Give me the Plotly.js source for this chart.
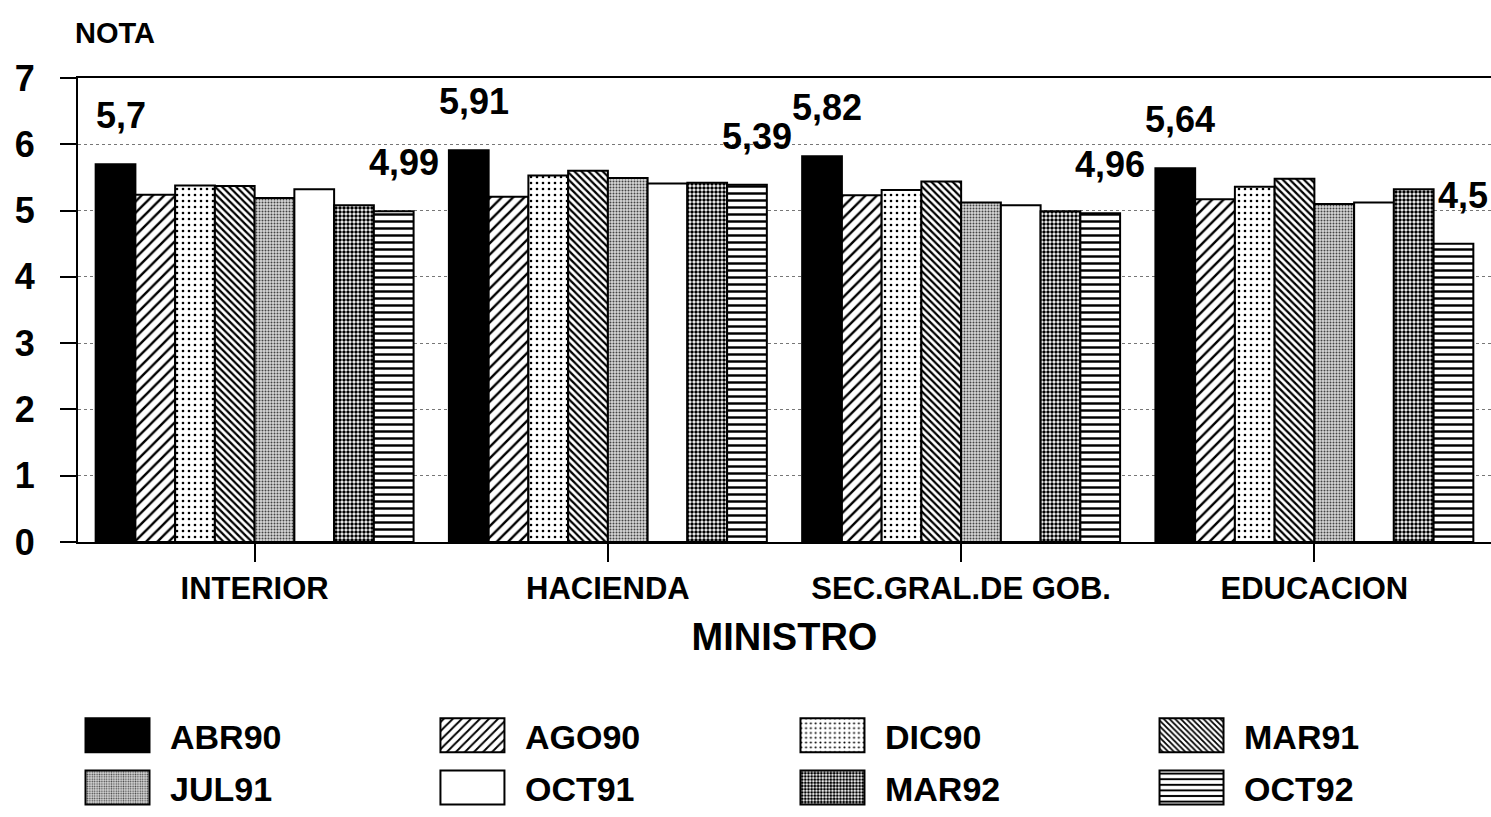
<!DOCTYPE html>
<html><head><meta charset="utf-8">
<script src="https://cdn.plot.ly/plotly-3.0.1.min.js"></script>
<style>html,body{margin:0;padding:0;background:#fff;overflow:hidden}#chart{width:1491px;height:817px}</style>
</head><body><div id="chart"></div>
<script>
// Data
const ministros = ['INTERIOR', 'HACIENDA', 'SEC.GRAL.DE GOB.', 'EDUCACION'];
const seriesNames = ['ABR90', 'AGO90', 'DIC90', 'MAR91', 'JUL91', 'OCT91', 'MAR92', 'OCT92'];
const abr90 = [5.70, 5.91, 5.82, 5.64];
const ago90 = [5.24, 5.21, 5.23, 5.17];
const dic90 = [5.38, 5.53, 5.31, 5.36];
const mar91 = [5.37, 5.60, 5.44, 5.48];
const jul91 = [5.19, 5.49, 5.12, 5.10];
const oct91 = [5.32, 5.41, 5.08, 5.12];
const mar92 = [5.08, 5.42, 4.99, 5.32];
const oct92 = [4.99, 5.39, 4.96, 4.5];
const yTicks = [0, 1, 2, 3, 4, 5, 6, 7];

const FONT = 'Liberation Sans, Arial, sans-serif';
const fmt = v => String(v).replace('.', ',');

const values = [abr90, ago90, dic90, mar91, jul91, oct91, mar92, oct92];
const styles = [
  {color: '#000000'},
  {color: '#ffffff', pattern: {shape: '/', fgcolor: '#000', bgcolor: '#fff', size: 8, solidity: 0.3}},
  {color: '#ffffff', pattern: {shape: '.', fgcolor: '#000', bgcolor: '#fff', size: 6, solidity: 0.15}},
  {color: '#ffffff', pattern: {shape: '\\', fgcolor: '#000', bgcolor: '#fff', size: 5, solidity: 0.45}},
  {color: '#cccccc', pattern: {shape: '.', fgcolor: '#444', bgcolor: '#d8d8d8', size: 3, solidity: 0.35}},
  {color: '#ffffff'},
  {color: '#ffffff', pattern: {shape: '.', fgcolor: '#000', bgcolor: '#fff', size: 4, solidity: 0.6}},
  {color: '#ffffff', pattern: {shape: '-', fgcolor: '#000', bgcolor: '#fff', size: 7, solidity: 0.35}}
];
const labelled = [true, false, false, false, false, false, false, true];
const BARGAP = 0.1;
const nSeries = values.length;
const barW = (1 - BARGAP) / nSeries;

// one legend per entry, laid out as in the reference (4 columns x 2 rows)
const legendCols = [-0.0092, 0.2420, 0.4968, 0.7509];
const legendRows = [-0.4176, -0.531];
const legendIds = seriesNames.map((_, i) => i === 0 ? 'legend' : 'legend' + (i + 1));

const traces = values.map((vals, i) => ({
  type: 'bar',
  name: seriesNames[i],
  x: ministros,
  y: vals,
  textposition: 'none',
  marker: Object.assign({line: {color: '#000', width: 2}}, styles[i]),
  legend: legendIds[i],
  hoverinfo: 'x+y+name'
}));

// value labels above first and last bar of each group
const annotations = [];
values.forEach((vals, i) => {
  if (!labelled[i]) return;
  vals.forEach((v, k) => {
    annotations.push({
      x: k + (i - (nSeries - 1) / 2) * barW, y: v, xref: 'x', yref: 'y',
      text: fmt(v), showarrow: false, yanchor: 'bottom', xanchor: 'center',
      yshift: 26, xshift: i === 0 ? 5 : 10,
      font: {family: FONT, size: 36, color: '#000', weight: 'bold'}
    });
  });
});

const layout = {
  width: 1491, height: 817,
  paper_bgcolor: '#fff', plot_bgcolor: '#fff',
  margin: {l: 78, r: 0, t: 78, b: 272},
  font: {family: FONT, color: '#000'},
  title: {text: 'NOTA', xref: 'container', yref: 'container', x: 75 / 1491, xanchor: 'left',
          y: 1 - 33 / 817, yanchor: 'middle', font: {family: FONT, size: 29, weight: 'bold', color: '#000'}},
  bargap: BARGAP, bargroupgap: 0,
  showlegend: true,
  annotations: annotations,
  xaxis: {
    range: [-0.5, 3.5], showline: true, linecolor: '#000', linewidth: 2, mirror: true,
    ticks: 'outside', ticklen: 18, tickwidth: 2, tickcolor: '#000',
    tickfont: {family: FONT, size: 31, weight: 'bold', color: '#000'},
    title: {text: 'MINISTRO', standoff: 18, font: {family: FONT, size: 38, weight: 'bold', color: '#000'}},
    fixedrange: true
  },
  yaxis: {
    range: [0, 7], tickvals: yTicks, ticktext: yTicks.map(String),
    showline: true, linecolor: '#000', linewidth: 2,
    ticks: 'outside', ticklen: 16, tickwidth: 2, tickcolor: '#000', ticklabelstandoff: 18,
    tickfont: {family: FONT, size: 36, weight: 'bold', color: '#000'},
    showgrid: true, gridcolor: '#777', griddash: 'dot', gridwidth: 1,
    zeroline: false, fixedrange: true
  }
};
legendIds.forEach((id, i) => {
  layout[id] = {
    orientation: 'h', xanchor: 'left', yanchor: 'middle',
    x: legendCols[i % 4], y: legendRows[Math.floor(i / 4)],
    itemwidth: 95,
    font: {family: FONT, size: 34, color: '#000', weight: 'bold'},
    bgcolor: 'rgba(0,0,0,0)'
  };
});

Plotly.newPlot('chart', traces, layout, {displayModeBar: false}).then(gd => {
  // enlarge the legend swatches to the wide boxes of the reference
  gd.querySelectorAll('.legendpoints path').forEach(p => {
    p.setAttribute('d', 'M32,17H-32V-17H32Z');
    p.style.strokeWidth = '2px';
    p.style.stroke = '#000';
  });
});
</script>
</body></html>
